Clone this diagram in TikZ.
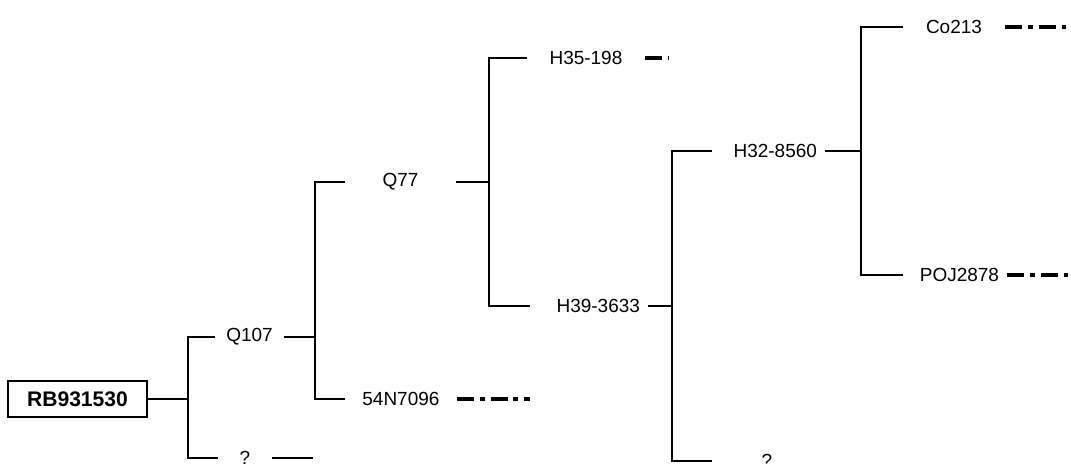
\documentclass[tikz,border=0pt]{standalone}
\usepackage{fontspec}
\setmainfont{Liberation Sans}
\usepackage{tikz}

\begin{document}
\begin{tikzpicture}[x=0.02cm, y=-0.02cm, line width=1.1pt,
    every node/.style={font=\fontsize{10.8}{13}\selectfont},
    root/.style={rectangle, draw, minimum width=2.78cm, minimum height=0.72cm, font=\fontsize{12}{14}\selectfont\bfseries},
    taxon/.style={anchor=west, inner xsep=0.14cm, inner ysep=1pt, align=center},
    taxonr/.style={taxon, align=right},
    lost/.style={line width=2pt, dash pattern=on 9.6pt off 3.4pt on 2.8pt off 3.4pt}]

    \useasboundingbox (0,0) rectangle (1071,463);

    \node[root] (rb) at (77.5,399) {RB931530};
    \node[taxon, text width=1.06cm] (q107) at (215,337) {Q107};
    \node[taxon, text width=0.76cm] (qm1) at (218,458) {?};
    \node[taxon, text width=1.90cm] (q77) at (345,182) {Q77};
    \node[taxon, text width=1.92cm] (n54) at (345,399) {54N7096};
    \node[taxon, text width=2.04cm] (h35) at (527,58) {H35-198};
    \node[taxonr, text width=2.04cm] (h39) at (530,306) {H39-3633};
    \node[taxonr, text width=1.94cm] (h32) at (712,151) {H32-8560};
    \node[taxon, text width=1.88cm] (qm2) at (712,461) {?};
    \node[taxon, text width=1.72cm] (co) at (903,27) {Co213};
    \node[taxonr, text width=1.76cm] (poj) at (903,275) {POJ2878};

    \coordinate (j1) at (188,399);
    \coordinate (j2) at (315,337);
    \coordinate (j3) at (489,182);
    \coordinate (j4) at (672,306);
    \coordinate (j5) at (861,151);
    \coordinate (e1) at (313,458);
    \coordinate (e2) at (530,399);
    \coordinate (e3) at (668,58);
    \coordinate (e4) at (1071,27);
    \coordinate (e5) at (1071,275);

    \draw (rb) -- (j1);
    \draw (q107.west) -| (j1) |- (qm1.west);
    \draw (qm1.east) -- (e1);
    \draw (q107.east) -- (j2);
    \draw (q77.west) -| (j2) |- (n54.west);
    \draw (q77.east) -- (j3);
    \draw (h35.west) -| (j3) |- (h39.west);
    \draw (h39.east) -- (j4);
    \draw (h32.west) -| (j4) |- (qm2.west);
    \draw (h32.east) -- (j5);
    \draw (co.west) -| (j5) |- (poj.west);

    \draw[lost] (n54.east) -- (e2);
    \draw[lost] (h35.east) -- (e3);
    \draw[lost] (co.east) -- (e4);
    \draw[lost] (poj.east) -- (e5);
\end{tikzpicture}
\end{document}
